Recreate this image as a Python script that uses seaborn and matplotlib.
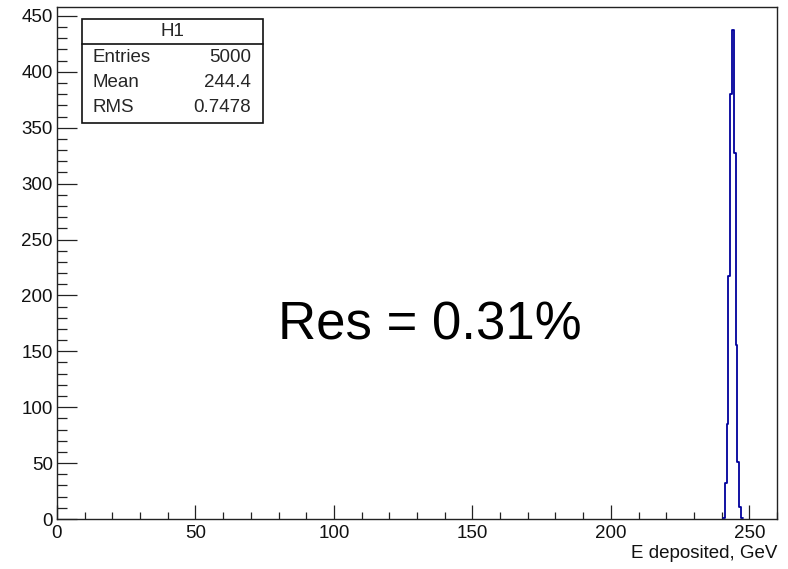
import numpy as np
import pandas as pd
import matplotlib
matplotlib.use("Agg")
import matplotlib.pyplot as plt
from matplotlib.ticker import MultipleLocator
import seaborn as sns

# Histogram contents: deposited energy (GeV), 0.65 GeV bins around the peak
bin_start = 240.5
bin_width = 0.65
counts = [1, 32, 85, 217, 380, 437, 327, 156, 51, 11, 1]

# Statistics box entries
stats_title = "H1"
stats_names = ["Entries", "Mean", "RMS"]
stats_values = ["5000", "244.4", "0.7478"]

x_label = "E deposited, GeV"
annotation = "Res = 0.31%"
x_range = (0, 260)
y_range = (0, 458)

edges = bin_start + bin_width * np.arange(len(counts) + 1)
centers = 0.5 * (edges[:-1] + edges[1:])
df = pd.DataFrame({"energy": centers, "n": np.asarray(counts, dtype=float)})

sns.set_style("white")
plt.rcParams["font.family"] = ["Liberation Sans", "DejaVu Sans"]

small = 13.5
fig = plt.figure(figsize=(7.88, 5.69), dpi=100)
ax = fig.add_axes([57 / 788, 50 / 569, 720 / 788, 512 / 569])

sns.histplot(data=df, x="energy", weights="n", bins=len(counts),
             binrange=(float(edges[0]), float(edges[-1])), element="step",
             fill=False, color="#00009c", linewidth=1.3, ax=ax)

ax.set_xlim(*x_range)
ax.set_ylim(*y_range)
ax.set_ylabel("")
ax.set_xlabel("")

for side in ax.spines.values():
    side.set_color("#222222")
    side.set_linewidth(1.0)

ax.xaxis.set_major_locator(MultipleLocator(50))
ax.xaxis.set_minor_locator(MultipleLocator(10))
ax.yaxis.set_major_locator(MultipleLocator(50))
ax.yaxis.set_minor_locator(MultipleLocator(10))
ax.tick_params(axis="x", which="major", direction="in", length=10, width=0.9,
               labelsize=small, pad=4, top=False, bottom=True, colors="#222222")
ax.tick_params(axis="x", which="minor", direction="in", length=5, width=0.9,
               top=False, bottom=True, colors="#222222")
ax.tick_params(axis="y", which="major", direction="in", length=14.4, width=0.9,
               labelsize=small, pad=3, left=True, right=False, colors="#222222")
ax.tick_params(axis="y", which="minor", direction="in", length=7.2, width=0.9,
               left=True, right=False, colors="#222222")
for lab in ax.get_xticklabels() + ax.get_yticklabels():
    lab.set_color("#111111")

fig.text(777 / 788, 1 - 553 / 569, x_label, ha="right", va="center",
         fontsize=small, color="#111111")

# Statistics box
bx0, bx1, by0, by1 = 82, 263, 19, 123
box = plt.Rectangle((bx0 / 788, 1 - by1 / 569), (bx1 - bx0) / 788,
                    (by1 - by0) / 569, transform=fig.transFigure,
                    facecolor="white", edgecolor="#111111", linewidth=1.2,
                    zorder=5)
fig.add_artist(box)
fig.add_artist(plt.Line2D([bx0 / 788, bx1 / 788], [1 - 44 / 569, 1 - 44 / 569],
                          transform=fig.transFigure, color="#111111",
                          linewidth=1.2, zorder=6))
fig.text((bx0 + bx1) / 2 / 788, 1 - 31.5 / 569, stats_title, ha="center",
         va="center", fontsize=small, zorder=7)
for i, (name, val) in enumerate(zip(stats_names, stats_values)):
    yy = 1 - (57 + 25.5 * i) / 569
    fig.text(92 / 788, yy, name, ha="left", va="center", fontsize=small, zorder=7)
    fig.text(251 / 788, yy, val, ha="right", va="center", fontsize=small, zorder=7)

fig.text(278 / 788, 1 - 326 / 569, annotation, ha="left", va="center",
         fontsize=38, color="black")

fig.savefig("out.png", dpi=100, facecolor="white")
